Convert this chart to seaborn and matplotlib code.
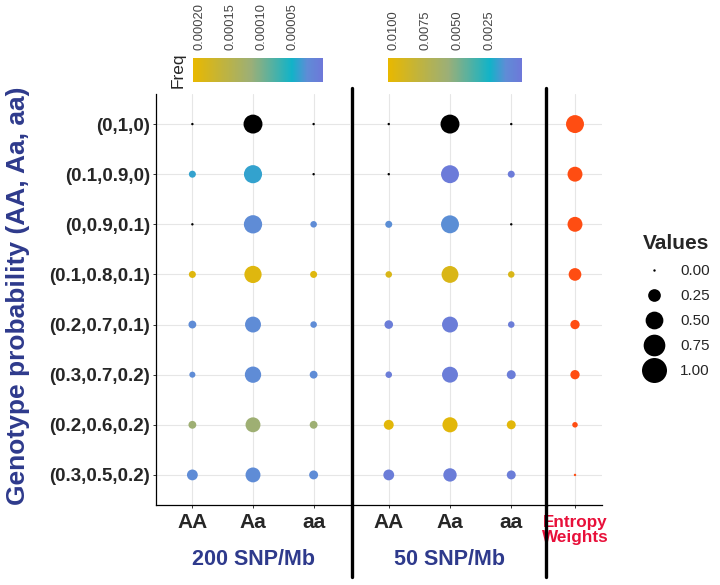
import matplotlib.pyplot as plt
import numpy as np
import pandas as pd
import seaborn as sns
from matplotlib.cm import ScalarMappable
from matplotlib.colors import LinearSegmentedColormap, Normalize
from matplotlib.lines import Line2D

rows = ["(0,1,0)", "(0.1,0.9,0)", "(0,0.9,0.1)", "(0.1,0.8,0.1)",
        "(0.2,0.7,0.1)", "(0.3,0.7,0.2)", "(0.2,0.6,0.2)", "(0.3,0.5,0.2)"]
genotypes = ["AA", "Aa", "aa"]

# 200 SNP/Mb panel
snp200_AA = [0.0, 0.07, 0.0, 0.07, 0.09, 0.05, 0.09, 0.18]
snp200_Aa = [0.57, 0.52, 0.53, 0.47, 0.40, 0.42, 0.35, 0.35]
snp200_aa = [0.0, 0.0, 0.06, 0.07, 0.06, 0.09, 0.09, 0.12]
snp200_freq = [np.nan, 0.00004, 0.000025, 0.00020, 0.000025, 0.000025, 0.00012, 0.000025]

# 50 SNP/Mb panel
snp50_AA = [0.0, 0.0, 0.07, 0.06, 0.11, 0.06, 0.15, 0.18]
snp50_Aa = [0.57, 0.51, 0.51, 0.45, 0.40, 0.40, 0.36, 0.28]
snp50_aa = [0.0, 0.07, 0.0, 0.06, 0.06, 0.12, 0.12, 0.12]
snp50_freq = [np.nan, 0.0002, 0.0013, 0.0095, 0.0003, 0.0003, 0.0100, 0.0003]

entropy_weights = [0.51, 0.35, 0.35, 0.25, 0.13, 0.13, 0.04, 0.0]

freq_ticks_200 = [0.00005, 0.00010, 0.00015, 0.00020]
freq_ticks_50 = [0.0025, 0.0050, 0.0075, 0.0100]
freq_max_200 = 0.000211
freq_max_50 = 0.0104
size_breaks = [0.0, 0.25, 0.50, 0.75, 1.00]

NAVY = "#2E3A8C"
ORANGE = "#FF4D12"
S_MIN, S_MAX = 3, 324

freq_cmap = LinearSegmentedColormap.from_list(
    "freq", [(0, "#6E78D9"), (0.12, "#5F8CD6"), (0.24, "#12B3C8"),
             (0.55, "#9BAF78"), (1, "#E8B800")])


def long_table(aa, het, hom, freq):
    recs = []
    for i, r in enumerate(rows):
        for j, (g, v) in enumerate(zip(genotypes, [aa[i], het[i], hom[i]])):
            recs.append({"row": r, "ypos": i, "geno": g, "xpos": j,
                         "Values": v, "Freq": freq[i]})
    return pd.DataFrame(recs)


def draw_panel(ax, df, norm):
    colored = df[df["Freq"].notna() & (df["Values"] > 0)]
    black = df.drop(colored.index)
    sns.scatterplot(data=colored, x="xpos", y="ypos", hue="Freq", hue_norm=norm,
                    palette=freq_cmap, size="Values", size_norm=(0, 1),
                    sizes=(S_MIN, S_MAX), linewidth=0, legend=False, ax=ax, zorder=3)
    sns.scatterplot(data=black, x="xpos", y="ypos", color="black",
                    size="Values", size_norm=(0, 1), sizes=(S_MIN, S_MAX),
                    linewidth=0, legend=False, ax=ax, zorder=3)


sns.set_style("white")
plt.rcParams["font.family"] = ["Liberation Sans", "DejaVu Sans"]

fig = plt.figure(figsize=(7.2, 5.85), dpi=100)
bottom, height = 1 - 505 / 585, 411 / 585
ax1 = fig.add_axes([156 / 720, bottom, 194 / 720, height])
ax2 = fig.add_axes([352 / 720, bottom, 196 / 720, height])
ax3 = fig.add_axes([548 / 720, bottom, 54 / 720, height])

df200 = long_table(snp200_AA, snp200_Aa, snp200_aa, snp200_freq)
df50 = long_table(snp50_AA, snp50_Aa, snp50_aa, snp50_freq)
norm200 = Normalize(0, freq_max_200)
norm50 = Normalize(0, freq_max_50)
draw_panel(ax1, df200, norm200)
draw_panel(ax2, df50, norm50)

ent = pd.DataFrame({"row": rows, "ypos": range(len(rows)), "xpos": 0,
                    "Values": entropy_weights})
sns.scatterplot(data=ent, x="xpos", y="ypos", color=ORANGE, size="Values",
                size_norm=(0, 1), sizes=(S_MIN, S_MAX), linewidth=0,
                legend=False, ax=ax3, zorder=3)

for ax in (ax1, ax2, ax3):
    ax.set_ylim(len(rows) - 0.4, -0.6)
    ax.set_yticks(range(len(rows)))
    ax.grid(True, color="#E6E6E6", lw=0.8)
    ax.set_axisbelow(True)
    for s in ("top", "right", "left"):
        ax.spines[s].set_visible(False)
    ax.spines["bottom"].set_color("black")
    ax.spines["bottom"].set_linewidth(0.9)
    ax.tick_params(axis="x", length=2.5, width=0.7, color="#333333", pad=3.5,
                   bottom=True, labelsize=15)
    ax.set_ylabel("")

ax1.spines["left"].set_visible(True)
ax1.spines["left"].set_color("black")
ax1.spines["left"].set_linewidth(0.9)
ax1.set_yticklabels(rows, fontweight="bold", fontsize=13.5)
ax1.tick_params(axis="y", left=True, length=2.5, width=0.7, color="#333333", pad=2)
for ax in (ax2, ax3):
    ax.tick_params(axis="y", labelleft=False, left=False)

for ax, title in ((ax1, "200 SNP/Mb"), (ax2, "50 SNP/Mb")):
    ax.set_xlim(-0.6, len(genotypes) - 0.4)
    ax.set_xticks(range(len(genotypes)))
    ax.set_xticklabels(genotypes, fontweight="bold")
    ax.set_xlabel(title, fontsize=15.5, fontweight="bold", color=NAVY, labelpad=12)

ax3.set_xlim(-0.6, 0.6)
ax3.set_xticks([0])
ax3.set_xticklabels(["Entropy\nWeights"], fontsize=12.3, fontweight="bold",
                    color="#E8103A", linespacing=1.0)
ax3.tick_params(axis="x", pad=5)
ax3.set_xlabel("")

ax1.set_ylabel("Genotype probability (AA, Aa, aa)", fontsize=19,
               fontweight="bold", color=NAVY)
ax1.yaxis.set_label_coords(-0.65, 0.51)

# colour bars
for left, width, norm, ticks, fmt in ((193, 130, norm200, freq_ticks_200, "{:.5f}"),
                                      (388, 134, norm50, freq_ticks_50, "{:.4f}")):
    cax = fig.add_axes([left / 720, 1 - 82 / 585, width / 720, 24 / 585])
    cb = fig.colorbar(ScalarMappable(norm=norm, cmap=freq_cmap), cax=cax,
                      orientation="horizontal")
    cb.outline.set_visible(False)
    cax.invert_xaxis()
    cb.set_ticks(ticks)
    cax.set_xticklabels([fmt.format(t) for t in ticks], rotation=90)
    cax.xaxis.set_ticks_position("top")
    cax.tick_params(axis="x", top=True, bottom=True, labeltop=True, labelbottom=False,
                    direction="in", length=3, width=0.8, color="white",
                    labelsize=9.3, labelcolor="#444444", pad=6)
    if norm is norm200:
        cax.set_ylabel("Freq", fontsize=12.5, rotation=90, labelpad=5)

# panel separators
for x in (352, 546):
    fig.add_artist(Line2D([x / 720, x / 720], [1 - 88 / 585, 1 - 577 / 585],
                          transform=fig.transFigure, color="black", lw=2.4))

handles = [Line2D([], [], marker="o", ls="", color="black", markeredgewidth=0,
                  markersize=np.sqrt(S_MIN + (S_MAX - S_MIN) * v)) for v in size_breaks]
fig.legend(handles, [f"{v:.2f}" for v in size_breaks], title="Values",
           loc="upper left", bbox_to_anchor=(636 / 720, 1 - 228 / 585),
           frameon=False, fontsize=11, labelspacing=0.72, handlelength=1.6,
           handletextpad=0.9, borderaxespad=0,
           title_fontproperties={"weight": "bold", "size": 15})

fig.savefig("out.png", dpi=100)
